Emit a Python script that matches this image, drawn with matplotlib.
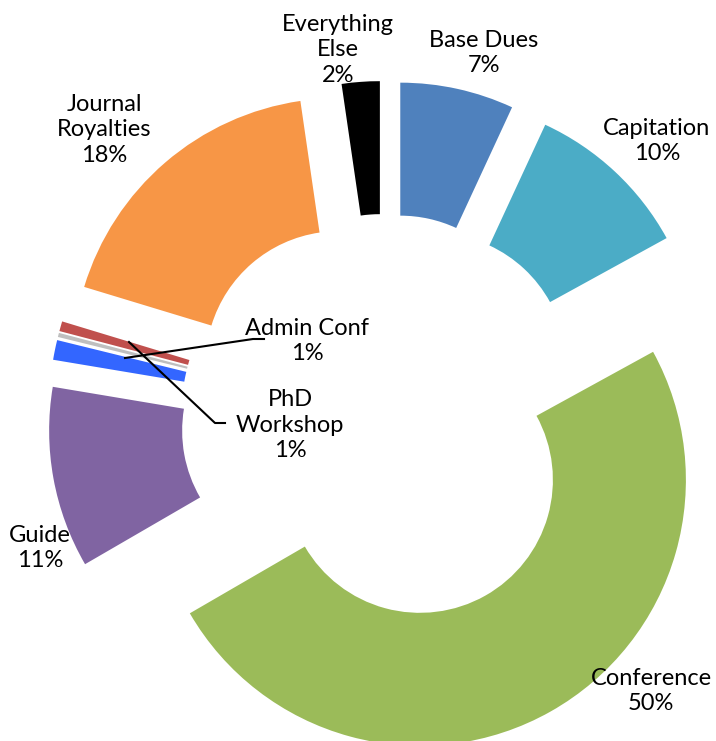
import matplotlib
matplotlib.use("Agg")
import matplotlib.pyplot as plt

categories = ["Base Dues", "Capitation", "Conference", "Guide", "Admin Conf",
              "", "PhD Workshop", "Journal Royalties", "Everything Else"]
values = [6.9, 10.1, 49.6, 11.0, 1.2, 0.25, 0.6, 18.0, 2.3]
colors = ["#4F81BD", "#4BACC6", "#9BBB59", "#8064A2", "#3366FF",
          "#BFBFBF", "#C0504D", "#F79646", "#000000"]

W, H = 716, 741
fig = plt.figure(figsize=(W / 100, H / 100), dpi=100)
ax = fig.add_axes([0, 0, 1, 1])

R = 266
cx, cy = 385, H - 418
ax.pie(values, colors=colors, startangle=90, counterclock=False,
       radius=R, center=(cx, cy), explode=[71] * len(values),
       wedgeprops=dict(width=R * 0.5, linewidth=0), frame=True)
ax.set_xlim(0, W)
ax.set_ylim(0, H)
ax.set_aspect("auto")
ax.axis("off")

total = sum(values)
pct = {c: f"{round(v / total * 100)}%" for c, v in zip(categories, values)}

font = dict(family=["Lato", "DejaVu Sans"], fontsize=17, color="black",
            ha="center", va="center", linespacing=1.25)

def lab(text, x, y):
    ax.text(x, H - y, text, **font)

lab("Everything\nElse\n" + pct["Everything Else"], 338, 50)
lab("Base Dues\n" + pct["Base Dues"], 484, 53)
lab("Capitation\n" + pct["Capitation"], 657, 141)
lab("Journal\nRoyalties\n" + pct["Journal Royalties"], 104, 130)
lab("Admin Conf\n" + pct["Admin Conf"], 307, 341)
lab("PhD\nWorkshop\n" + pct["PhD Workshop"], 290, 425)
lab("Guide\n" + pct["Guide"], 40, 548)
lab("Conference\n" + pct["Conference"], 651, 691)

# leader lines
ax.plot([125, 253, 264], [H - 358, H - 339, H - 339], color="black", lw=1.5)
ax.plot([129, 215, 225], [H - 342, H - 423, H - 423], color="black", lw=1.5)

fig.savefig("out.png", dpi=100)
